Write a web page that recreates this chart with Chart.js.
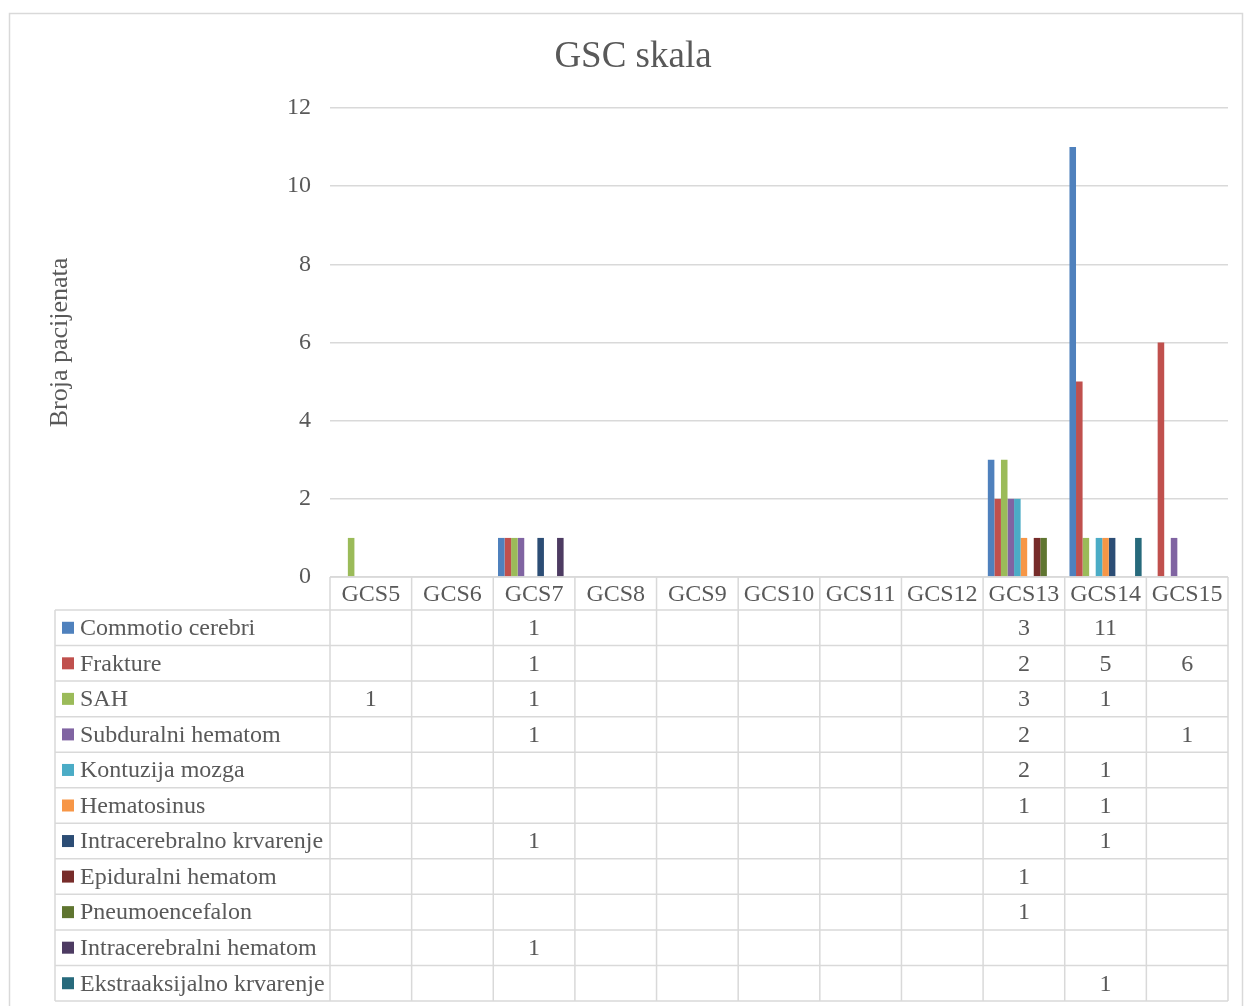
<!DOCTYPE html>
<html>
<head>
<meta charset="utf-8">
<title>GSC skala</title>
<script src="https://cdn.jsdelivr.net/npm/chart.js@4.4.1/dist/chart.umd.min.js"></script>
<style>
  body { margin: 0; background: #fff; }
  #wrap { width: 1245px; height: 1006px; position: relative; }
</style>
</head>
<body>
<div id="wrap"><canvas id="gcsChart" width="1245" height="1006"></canvas></div>
<script>
// categories and series (empty cells = null)
const categories = ['GCS5', 'GCS6', 'GCS7', 'GCS8', 'GCS9', 'GCS10', 'GCS11', 'GCS12', 'GCS13', 'GCS14', 'GCS15'];
const seriesNames = ['Commotio cerebri', 'Frakture', 'SAH', 'Subduralni hematom', 'Kontuzija mozga',
    'Hematosinus', 'Intracerebralno krvarenje', 'Epiduralni hematom', 'Pneumoencefalon',
    'Intracerebralni hematom', 'Ekstraaksijalno krvarenje'];

const commotio      = [null, null, 1, null, null, null, null, null, 3, 11, null];
const frakture      = [null, null, 1, null, null, null, null, null, 2, 5, 6];
const sah           = [1, null, 1, null, null, null, null, null, 3, 1, null];
const subduralni    = [null, null, 1, null, null, null, null, null, 2, null, 1];
const kontuzija     = [null, null, null, null, null, null, null, null, 2, 1, null];
const hematosinus   = [null, null, null, null, null, null, null, null, 1, 1, null];
const icKrvarenje   = [null, null, 1, null, null, null, null, null, null, 1, null];
const epiduralni    = [null, null, null, null, null, null, null, null, 1, null, null];
const pneumo        = [null, null, null, null, null, null, null, null, 1, null, null];
const icHematom     = [null, null, 1, null, null, null, null, null, null, null, null];
const ekstraaksijal = [null, null, null, null, null, null, null, null, null, 1, null];

const yTicks = [0, 2, 4, 6, 8, 10, 12];

const seriesValues = [commotio, frakture, sah, subduralni, kontuzija, hematosinus,
    icKrvarenje, epiduralni, pneumo, icHematom, ekstraaksijal];
const colors = ['#4F81BD', '#C0504D', '#9BBB59', '#8064A2', '#4BACC6', '#F79646',
    '#2C4D75', '#772C2A', '#5F7530', '#4D3B62', '#276A7C'];

const FONT = '"Liberation Serif", "Times New Roman", serif';
const TEXT = '#595959';
const LINE = '#d9d9d9';

// title, outer frame and the data table under the plot
const tablePlugin = {
    id: 'dataTable',
    afterDraw(chart) {
        const ctx = chart.ctx;
        const x = chart.scales.x;
        const area = chart.chartArea;
        const colW = (area.right - area.left) / categories.length;
        const labelLeft = 55;
        const headerBottom = area.bottom + 33;
        const tableBottom = 1001;
        const rowH = (tableBottom - headerBottom) / seriesNames.length;

        ctx.save();
        // outer frame
        ctx.strokeStyle = LINE;
        ctx.lineWidth = 1.5;
        ctx.strokeRect(9.5, 13.5, 1233, 1010);

        // title
        ctx.fillStyle = TEXT;
        ctx.font = '37px ' + FONT;
        ctx.textAlign = 'center';
        ctx.textBaseline = 'middle';
        ctx.fillText('GSC skala', 633, 57);

        // grid lines of table
        ctx.strokeStyle = LINE;
        ctx.lineWidth = 1.5;
        ctx.beginPath();
        ctx.moveTo(area.left, area.bottom);
        ctx.lineTo(area.right, area.bottom);
        for (let r = 0; r <= seriesNames.length; r++) {
            const yy = headerBottom + r * rowH;
            ctx.moveTo(labelLeft, yy);
            ctx.lineTo(area.right, yy);
        }
        ctx.moveTo(labelLeft, headerBottom);
        ctx.lineTo(labelLeft, tableBottom);
        for (let c = 0; c <= categories.length; c++) {
            const xx = area.left + c * colW;
            ctx.moveTo(xx, area.bottom);
            ctx.lineTo(xx, tableBottom);
        }
        ctx.stroke();

        // header labels
        ctx.fillStyle = TEXT;
        ctx.font = '24px ' + FONT;
        ctx.textAlign = 'center';
        categories.forEach((cat, i) => {
            ctx.fillText(cat, x.getPixelForValue(i), (area.bottom + headerBottom) / 2 + 1);
        });

        // rows
        seriesNames.forEach((name, r) => {
            const cy = headerBottom + r * rowH + rowH / 2 + 1;
            ctx.fillStyle = colors[r];
            ctx.fillRect(62, cy - 7, 12, 12);
            ctx.fillStyle = TEXT;
            ctx.textAlign = 'left';
            ctx.fillText(name, 80, cy);
            ctx.textAlign = 'center';
            seriesValues[r].forEach((v, i) => {
                if (v !== null) ctx.fillText(String(v), x.getPixelForValue(i), cy);
            });
        });
        ctx.restore();
    }
};

new Chart(document.getElementById('gcsChart').getContext('2d'), {
    type: 'bar',
    data: {
        labels: categories,
        datasets: seriesNames.map((name, i) => ({
            label: name,
            data: seriesValues[i],
            backgroundColor: colors[i],
            borderWidth: 0,
            categoryPercentage: 0.884,
            barPercentage: 1
        }))
    },
    options: {
        responsive: false,
        animation: false,
        layout: {
            padding: { left: 45, top: 108, right: 17, bottom: 429 }
        },
        plugins: {
            legend: { display: false },
            title: { display: false },
            tooltip: { enabled: false }
        },
        scales: {
            x: { display: false },
            y: {
                min: 0,
                max: 12,
                afterBuildTicks(scale) {
                    scale.ticks = yTicks.map(v => ({ value: v }));
                },
                afterFit(scale) { scale.width = 285; },
                border: { display: false },
                grid: { color: LINE, lineWidth: 1.5, drawTicks: false },
                ticks: {
                    padding: 19,
                    color: TEXT,
                    font: { family: FONT, size: 24 }
                },
                title: {
                    display: true,
                    text: 'Broja pacijenata',
                    color: TEXT,
                    font: { family: FONT, size: 26 },
                    padding: { top: 0, bottom: 12 }
                }
            }
        }
    },
    plugins: [tablePlugin]
});
</script>
</body>
</html>
